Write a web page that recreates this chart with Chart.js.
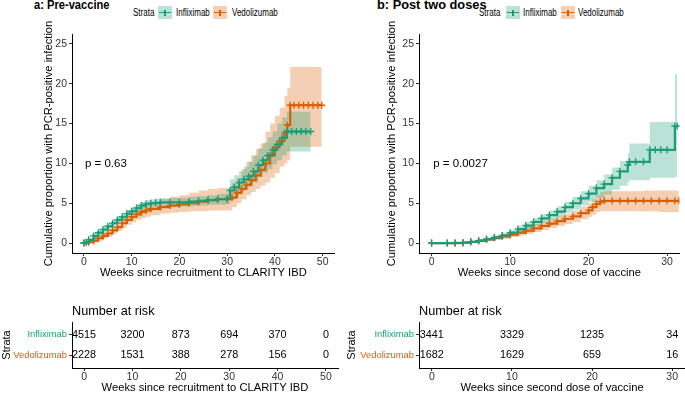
<!DOCTYPE html>
<html>
<head>
<meta charset="utf-8">
<script src="https://cdn.jsdelivr.net/npm/chart.js@4.4.1/dist/chart.umd.min.js"></script>
<style>
  body { margin: 0; width: 685px; height: 393px; overflow: hidden; background: #fff; position: relative;
         font-family: "Liberation Sans", Arial, sans-serif; }
  canvas, .t, .lg, .key { position: absolute; }
  .t { font-weight: bold; font-size: 12.8px; line-height: 14px; top: -2px; color: #000; white-space: nowrap;
       transform-origin: left center; }
  .lg { font-size: 10px; line-height: 12px; top: 7px; color: #000; white-space: nowrap;
        transform: scaleX(0.8); transform-origin: left center; }
  .key { width: 14px; height: 13px; top: 6px; }
  .key i { position: absolute; left: 1px; right: 1px; top: 5.5px; height: 1.5px; }
  .key b { position: absolute; left: 6.25px; top: 3.5px; width: 1.5px; height: 6px; }
</style>
</head>
<body>
<div class="t" style="left:34px;transform:scaleX(0.87)">a: Pre-vaccine</div>
<div class="lg" style="left:133px">Strata</div>
<div class="key" style="left:158px;background:rgba(27,158,119,0.3)"><i style="background:#1B9E77"></i><b style="background:#1B9E77"></b></div>
<div class="lg" style="left:176px">Infliximab</div>
<div class="key" style="left:213px;background:rgba(217,95,2,0.3)"><i style="background:#D95F02"></i><b style="background:#D95F02"></b></div>
<div class="lg" style="left:232px">Vedolizumab</div>

<div class="t" style="left:377px">b: Post two doses</div>
<div class="lg" style="left:479px">Strata</div>
<div class="key" style="left:506px;background:rgba(27,158,119,0.3)"><i style="background:#1B9E77"></i><b style="background:#1B9E77"></b></div>
<div class="lg" style="left:523px">Infliximab</div>
<div class="key" style="left:561px;background:rgba(217,95,2,0.3)"><i style="background:#D95F02"></i><b style="background:#D95F02"></b></div>
<div class="lg" style="left:578px">Vedolizumab</div>

<canvas id="preMain" width="298" height="285" style="left:42px;top:0"></canvas>
<canvas id="postMain" width="300" height="285" style="left:385px;top:0"></canvas>
<canvas id="preRisk" width="340" height="95" style="left:0;top:300px"></canvas>
<canvas id="postRisk" width="340" height="95" style="left:345px;top:300px"></canvas>

<script>
'use strict';

// 層と色
const strata = ['Infliximab', 'Vedolizumab'];
const lineColors = ['#1B9E77', '#D95F02'];
const bandColors = ['rgba(27,158,119,0.3)', 'rgba(217,95,2,0.3)'];

// a: Pre-vaccine
const preWeeksInf = [0, 0.5, 1, 2, 3, 4, 5, 6, 7, 8, 9, 10, 11, 12, 13, 14, 15, 16, 18, 20, 22, 24, 26, 28, 30, 30.6, 31.5, 32.5, 33.5, 34.5, 35.5, 36.5, 37.5, 38.5, 39.5, 40.5, 41.5, 42.5, 43.5, 44.5, 45.5, 46.5, 47.5];
const preInf   = [0, 0.1, 0.4, 0.9, 1.3, 1.7, 2.1, 2.5, 2.9, 3.3, 3.7, 4.0, 4.4, 4.7, 4.9, 5.0, 5.05, 5.1, 5.1, 5.1, 5.2, 5.3, 5.4, 5.5, 5.6, 6.6, 7.0, 7.6, 8.0, 8.4, 9.0, 9.8, 10.4, 11.0, 11.7, 12.4, 13.2, 14.0, 14.0, 14.0, 14.0, 14.0, 14.0];
const preInfLo = [0, 0, 0.2, 0.6, 1.0, 1.4, 1.8, 2.2, 2.5, 2.9, 3.3, 3.6, 3.9, 4.2, 4.4, 4.5, 4.55, 4.6, 4.6, 4.6, 4.65, 4.7, 4.8, 4.8, 4.9, 5.4, 5.8, 6.4, 6.8, 7.1, 7.6, 8.3, 8.8, 9.3, 9.9, 10.4, 11.0, 11.5, 11.5, 11.5, 11.5, 11.5, 11.5];
const preInfHi = [0, 0.2, 0.6, 1.2, 1.6, 2.0, 2.4, 2.8, 3.3, 3.7, 4.1, 4.4, 4.9, 5.2, 5.4, 5.5, 5.6, 5.65, 5.65, 5.7, 5.8, 5.9, 6.0, 6.2, 6.3, 8.0, 8.5, 9.0, 9.6, 10.2, 11.0, 11.9, 12.6, 13.3, 14.0, 15.0, 15.8, 16.5, 16.5, 16.5, 16.5, 16.5, 16.5];

const preWeeksVed = [0, 1, 2, 3, 4, 5, 6, 7, 8, 9, 10, 11, 12, 13, 14, 16, 18, 20, 22, 24, 26, 28, 30, 31, 32, 33, 34, 35, 36, 37, 38, 39, 40, 41, 42, 42.6, 43.2, 44, 45, 46, 47, 48, 49, 49.8];
const preVed   = [0, 0.1, 0.3, 0.6, 0.9, 1.2, 1.6, 2.0, 2.5, 2.9, 3.3, 3.6, 3.9, 4.1, 4.3, 4.5, 4.7, 4.85, 5.0, 5.2, 5.4, 5.5, 5.5, 5.7, 6.3, 6.8, 7.3, 7.9, 8.5, 9.2, 10.0, 11.0, 12.0, 12.8, 13.8, 14.8, 17.3, 17.3, 17.3, 17.3, 17.3, 17.3, 17.3, 17.3];
const preVedLo = [0, 0, 0.1, 0.3, 0.6, 0.8, 1.2, 1.5, 1.9, 2.3, 2.6, 2.9, 3.1, 3.3, 3.5, 3.7, 3.8, 3.9, 4.0, 4.0, 4.1, 4.1, 4.1, 4.5, 5.0, 5.5, 6.0, 6.4, 6.8, 7.2, 7.6, 8.2, 8.8, 9.6, 10.0, 10.4, 12.1, 12.1, 12.1, 12.1, 12.1, 12.1, 12.1, 12.1];
const preVedHi = [0, 0.3, 0.6, 0.9, 1.3, 1.7, 2.1, 2.6, 3.1, 3.5, 4.0, 4.4, 4.7, 5.0, 5.2, 5.5, 5.8, 6.0, 6.3, 6.6, 6.8, 6.9, 6.9, 7.5, 8.2, 9.3, 10.2, 11.0, 11.8, 12.5, 14.0, 15.0, 16.0, 17.0, 18.5, 19.5, 22.1, 22.1, 22.1, 22.1, 22.1, 22.1, 22.1, 22.1];

const preTicks = [0, 10, 20, 30, 40, 50];
const preRiskInf = [4515, 3200, 873, 694, 370, 0];
const preRiskVed = [2228, 1531, 388, 278, 156, 0];

// b: Post two doses
const postWeeksInf = [0, 2, 3, 4, 5, 6, 7, 8, 9, 10, 11, 12, 13, 14, 15, 16, 17, 18, 19, 20, 21, 22, 23, 24, 25, 25.2, 26, 27, 27.8, 28.5, 29.2, 30, 31.0, 31.3];
const postInf   = [0, 0, 0.02, 0.05, 0.15, 0.3, 0.5, 0.7, 0.95, 1.3, 1.75, 2.2, 2.65, 3.1, 3.5, 3.95, 4.5, 5.0, 5.6, 6.2, 6.9, 7.4, 8.2, 9.0, 9.8, 10.2, 10.2, 10.2, 11.7, 11.7, 11.7, 11.7, 14.7, 14.7];
const postInfLo = [0, 0, 0, 0, 0.05, 0.15, 0.3, 0.45, 0.65, 0.95, 1.35, 1.75, 2.15, 2.55, 2.9, 3.3, 3.8, 4.2, 4.7, 5.2, 5.7, 6.1, 6.7, 7.2, 7.6, 7.9, 7.9, 7.9, 8.2, 8.2, 8.2, 8.2, 8.3, 8.3];
const postInfHi = [0, 0, 0.05, 0.1, 0.25, 0.45, 0.7, 0.95, 1.25, 1.65, 2.15, 2.65, 3.15, 3.65, 4.1, 4.6, 5.2, 5.8, 6.5, 7.2, 7.9, 8.6, 9.5, 10.3, 11.2, 12.5, 12.5, 12.5, 15.2, 15.2, 15.2, 15.2, 21.2, 21.2];

const postWeeksVed = [0, 2, 3, 4, 5, 6, 7, 8, 9, 10, 11, 12, 13, 14, 15, 16, 17, 18, 19, 20, 20.5, 21, 21.5, 22, 23, 24, 25, 26, 27, 28, 29, 30, 31, 31.5];
const postVed   = [0, 0, 0, 0.05, 0.15, 0.3, 0.45, 0.65, 0.85, 1.05, 1.3, 1.55, 1.85, 2.15, 2.45, 2.75, 3.05, 3.35, 3.75, 4.1, 4.5, 4.9, 5.2, 5.3, 5.3, 5.3, 5.3, 5.3, 5.3, 5.3, 5.3, 5.3, 5.3, 5.3];
const postVedLo = [0, 0, 0, 0, 0.05, 0.15, 0.25, 0.4, 0.55, 0.75, 0.95, 1.15, 1.4, 1.65, 1.9, 2.15, 2.4, 2.65, 3.0, 3.3, 3.6, 3.9, 4.0, 4.0, 4.0, 4.0, 4.0, 4.0, 3.95, 3.95, 3.9, 3.9, 3.9, 3.9];
const postVedHi = [0, 0, 0, 0.1, 0.25, 0.45, 0.65, 0.9, 1.15, 1.4, 1.7, 2.0, 2.35, 2.7, 3.0, 3.4, 3.7, 4.1, 4.6, 5.0, 5.5, 6.0, 6.4, 6.5, 6.5, 6.5, 6.5, 6.5, 6.6, 6.6, 6.6, 6.6, 6.6, 6.6];

const postTicks = [0, 10, 20, 30];
const postRiskInf = [3441, 3329, 1235, 34];
const postRiskVed = [1682, 1629, 659, 16];

const yTicks = [0, 5, 10, 15, 20, 25];

Chart.defaults.font.family = '"Liberation Sans", Arial, sans-serif';
Chart.defaults.color = '#222';
Chart.defaults.animation = false;

const FONT = '"Liberation Sans", Arial, sans-serif';

// テキスト注記 (p値, Number at risk, 数値)
const annot = {
  id: 'annot',
  afterDraw(chart, args, opts) {
    const ctx = chart.ctx;
    const {x, y} = chart.scales;
    ctx.save();
    ctx.fillStyle = '#000';
    if (opts.pText) {
      ctx.font = '11.5px ' + FONT;
      ctx.textAlign = 'left';
      ctx.textBaseline = 'middle';
      ctx.fillText(opts.pText, x.getPixelForValue(opts.pAt[0]), y.getPixelForValue(opts.pAt[1]));
    }
    if (opts.heading) {
      ctx.font = '12.7px ' + FONT;
      ctx.textAlign = 'left';
      ctx.textBaseline = 'middle';
      ctx.fillText(opts.heading, chart.chartArea.left, chart.chartArea.top - 11);
      ctx.font = '10.8px ' + FONT;
      ctx.textAlign = 'center';
      chart.data.datasets.forEach((ds, di) => {
        chart.getDatasetMeta(di).data.forEach((pt, i) => {
          ctx.fillText(String(ds.counts[i]), pt.x, pt.y);
        });
      });
    }
    ctx.restore();
  }
};

function pts(xs, ys) {
  return xs.map((w, i) => ({x: w, y: ys[i]}));
}

function kmSets(groups) {
  const sets = [];
  groups.forEach((g, k) => {
    sets.push({ data: pts(g.w, g.lo), stepped: true, borderWidth: 0, pointRadius: 0, fill: false, order: 2 });
    sets.push({ data: pts(g.w, g.hi), stepped: true, borderWidth: 0, pointRadius: 0,
                fill: '-1', backgroundColor: bandColors[k], order: 2 });
    sets.push({ data: pts(g.w, g.v), stepped: true, borderColor: lineColors[k], borderWidth: 2.2,
                pointStyle: 'cross', pointRadius: 3.5, pointBorderWidth: 1.4,
                pointBorderColor: lineColors[k], fill: false, order: 1 });
  });
  return sets;
}

function axisCommon() {
  return {
    grid: { display: true, drawOnChartArea: false, tickLength: 3, color: '#333' },
    border: { display: true, color: '#000', width: 1 },
  };
}

function mainChart(id, groups, xMin, xMax, xTicks, xTitle, yWidth, padRight, pText) {
  new Chart(document.getElementById(id), {
    type: 'line',
    data: { datasets: kmSets(groups) },
    options: {
      responsive: false,
      devicePixelRatio: 1,
      layout: { padding: { top: 34, right: padRight, left: 0, bottom: 0 } },
      plugins: { legend: { display: false }, tooltip: { enabled: false },
                 annot: { pText: pText, pAt: [0.2, 10] } },
      scales: {
        x: Object.assign(axisCommon(), {
          type: 'linear', min: xMin, max: xMax,
          afterBuildTicks: s => { s.ticks = xTicks.map(v => ({value: v})); },
          afterFit: s => { s.height = 32; s.paddingLeft = 0; s.paddingRight = 0; },
          ticks: { font: { size: 10.5 }, color: '#333', padding: 0, maxRotation: 0 },
          title: { display: true, text: xTitle, font: { size: 11.2 }, color: '#000', padding: { top: 0, bottom: 5 } }
        }),
        y: Object.assign(axisCommon(), {
          type: 'linear', min: -1.25, max: 26.25,
          afterBuildTicks: s => { s.ticks = yTicks.map(v => ({value: v})); },
          afterFit: s => { s.width = yWidth; s.paddingTop = 0; s.paddingBottom = 0; },
          ticks: { font: { size: 10.5 }, color: '#333', padding: 2 },
          title: { display: true, text: 'Cumulative proportion with PCR-positive infection',
                   font: { size: 11.2 }, color: '#000', padding: 0 }
        })
      }
    },
    plugins: [annot]
  });
}

function riskChart(id, risks, xMin, xMax, xTicks, xTitle, yWidth, padRight) {
  new Chart(document.getElementById(id), {
    type: 'scatter',
    data: {
      datasets: risks.map((r, k) => ({
        data: xTicks.map(t => ({x: t, y: 2 - k})),
        counts: r,
        pointRadius: 0
      }))
    },
    options: {
      responsive: false,
      devicePixelRatio: 1,
      layout: { padding: { top: 22, right: padRight, left: 0, bottom: 0 } },
      plugins: { legend: { display: false }, tooltip: { enabled: false },
                 annot: { heading: 'Number at risk' } },
      scales: {
        x: Object.assign(axisCommon(), {
          type: 'linear', min: xMin, max: xMax,
          afterBuildTicks: s => { s.ticks = xTicks.map(v => ({value: v})); },
          afterFit: s => { s.height = 27; s.paddingLeft = 0; s.paddingRight = 0; },
          ticks: { font: { size: 10.5 }, color: '#333', padding: 0, maxRotation: 0 },
          title: { display: true, text: xTitle, font: { size: 11.2 }, color: '#000', padding: { top: 0, bottom: 0 } }
        }),
        y: Object.assign(axisCommon(), {
          type: 'linear', min: 0.4, max: 2.6,
          afterBuildTicks: s => { s.ticks = [{value: 1}, {value: 2}]; },
          afterFit: s => { s.width = yWidth; s.paddingTop = 0; s.paddingBottom = 0; },
          ticks: { font: { size: 9.4 }, padding: 2,
                   callback: v => strata[2 - v],
                   color: c => lineColors[2 - c.tick.value] },
          title: { display: true, text: 'Strata', font: { size: 11 }, color: '#000', padding: 0 }
        })
      }
    },
    plugins: [annot]
  });
}

mainChart('preMain', [
  { w: preWeeksInf, v: preInf, lo: preInfLo, hi: preInfHi },
  { w: preWeeksVed, v: preVed, lo: preVedLo, hi: preVedHi }
], -2.5, 52.5, preTicks, 'Weeks since recruitment to CLARITY IBD', 30, 2, 'p = 0.63');

mainChart('postMain', [
  { w: postWeeksInf, v: postInf, lo: postInfLo, hi: postInfHi },
  { w: postWeeksVed, v: postVed, lo: postVedLo, hi: postVedHi }
], -1.6, 31.6, postTicks, 'Weeks since second dose of vaccine', 34, 0, 'p = 0.0027');

riskChart('preRisk', [preRiskInf, preRiskVed], -2.5, 52.5, preTicks, 'Weeks since recruitment to CLARITY IBD', 72, 2);
riskChart('postRisk', [postRiskInf, postRiskVed], -1.6, 31.6, postTicks, 'Weeks since second dose of vaccine', 74, 0);
</script>
</body>
</html>
